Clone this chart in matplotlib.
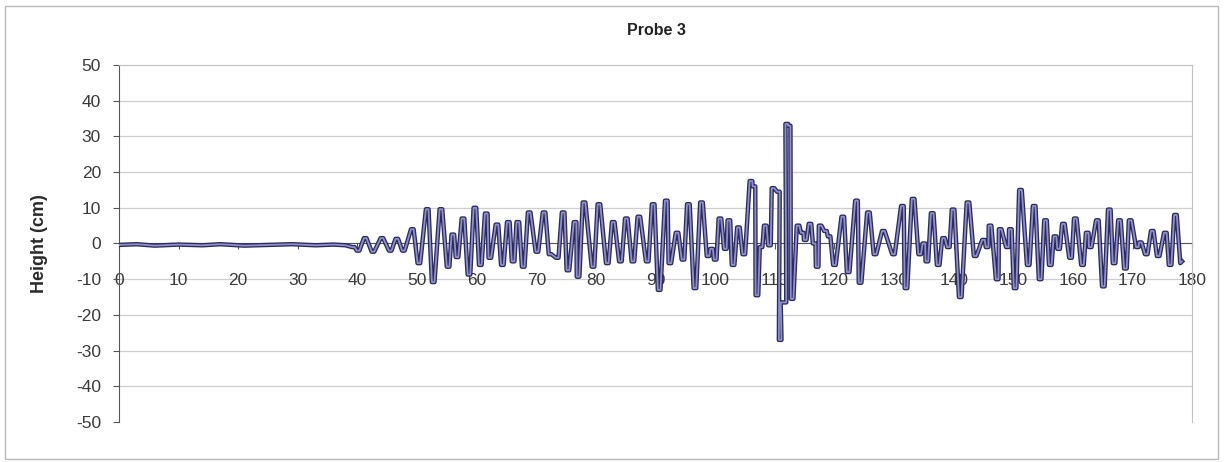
import matplotlib

matplotlib.use("Agg")
import matplotlib.pyplot as plt
from matplotlib.patches import Rectangle

plt.rcParams["font.family"] = ["Liberation Sans", "DejaVu Sans"]
plt.rcParams["axes.unicode_minus"] = False

# Probe 3 record: turning points (time, height in cm)
time_s = [
    0.0, 3.0, 6.0, 10.0, 14.0, 17.0, 21.0, 25.0, 29.0, 33.0, 36.0, 38.0,
    39.3, 40.1, 41.3, 42.6, 44.1, 45.5, 46.6, 47.7, 49.2, 50.3,
    51.7, 52.7, 54.0, 55.2, 56.0, 56.7, 57.7, 58.7, 59.7, 60.6,
    61.6, 62.2, 63.4, 64.3, 65.3, 66.1, 66.9, 67.8, 68.8, 70.1,
    71.3, 72.3, 73.5, 74.5, 75.3, 76.5, 77.0, 78.0, 79.5, 80.5,
    81.9, 82.9, 84.1, 85.1, 86.2, 87.2, 88.6, 89.6, 90.6, 91.8,
    92.4, 93.6, 94.6, 95.5, 96.6, 97.7, 98.8, 99.4, 100.0, 100.8,
    101.7, 102.3, 103.0, 103.9, 104.8, 106.0, 106.5, 107.0, 107.7, 108.4,
    109.1, 109.7, 110.6, 110.9, 111.2, 111.7, 112.0, 112.4, 112.9, 113.9,
    114.6, 115.1, 115.9, 116.6, 117.1, 117.6, 118.5, 119.1, 120.0, 121.4,
    122.3, 123.7, 124.3, 125.7, 126.8, 128.2, 129.9, 131.4, 132.0, 133.2,
    134.3, 135.0, 135.5, 136.4, 137.4, 138.3, 139.1, 139.9, 141.1, 142.4,
    143.6, 145.0, 145.6, 146.1, 147.3, 147.8, 149.0, 149.5, 150.3, 151.2,
    152.5, 153.5, 154.5, 155.4, 156.2, 157.0, 157.6, 158.4, 159.6, 160.4,
    161.6, 162.4, 162.9, 164.1, 165.1, 166.1, 166.9, 167.8, 168.8, 169.6,
    170.8, 171.3, 172.3, 173.3, 174.3, 175.5, 176.3, 177.2, 178.0, 178.3,
]
height_cm = [
    -0.4, -0.2, -0.6, -0.3, -0.5, -0.2, -0.6, -0.4, -0.2, -0.5, -0.3, -0.5,
    -1.0, -2.0, 1.5, -2.3, 1.5, -2.0, 1.3, -2.0, 4.0, -5.5,
    9.6, -10.8, 9.6, -6.5, 2.5, -3.8, 7.0, -8.7, 10.0, -6.0,
    8.4, -4.0, 5.3, -6.0, 6.0, -5.0, 6.0, -6.5, 8.7, -2.3,
    8.7, -3.0, -4.0, 8.7, -7.5, 6.0, -9.3, 11.5, -6.5, 11.0,
    -5.5, 6.0, -5.0, 7.0, -5.0, 7.5, -5.0, 11.0, -13.0, 12.0,
    -5.5, 3.0, -4.5, 11.0, -12.5, 11.5, -3.5, -1.5, -4.5, 7.0,
    -1.5, 6.5, -6.0, 4.5, -3.0, 17.5, 16.0, -14.5, -1.0, 5.0,
    -0.5, 15.5, 14.5, -27.0, -16.5, -16.5, 33.5, 33.0, -15.5, 5.0,
    3.0, 1.0, 5.5, 0.0, -6.5, 5.0, 3.5, 2.0, -6.0, 7.5,
    -8.0, 12.0, -11.0, 8.7, -3.0, 3.5, -3.0, 10.5, -12.5, 12.5,
    -3.0, 0.0, -5.0, 8.5, -6.0, 1.5, -1.0, 9.5, -15.0, 11.5,
    -3.5, 1.0, -1.0, 5.0, -10.0, 4.0, -1.0, 4.0, -12.5, 15.0,
    -6.0, 10.5, -10.0, 6.5, -6.0, 2.0, -1.5, 5.5, -4.0, 7.0,
    -6.0, 3.0, -1.0, 6.5, -12.0, 9.5, -5.5, 6.5, -7.0, 6.5,
    -1.0, 0.3, -3.0, 3.5, -3.5, 3.0, -6.0, 8.0, -5.5, -5.0,
]
x_ticks = list(range(0, 181, 10))
y_ticks = list(range(-50, 51, 10))

# the printed trace dwells briefly at each crest/trough, so hold every turning point
# for a short stretch instead of joining them with sharp sawtooth corners
hold = 0.22
plot_t, plot_h = [], []
for i, (t, h) in enumerate(zip(time_s, height_cm)):
    if 38.0 < t < 178.0:
        plot_t += [t - hold, t + hold]
        plot_h += [h, h]
    else:
        plot_t.append(t)
        plot_h.append(h)

fig = plt.figure(figsize=(12.24, 4.62), dpi=100)
fig.patches.append(Rectangle((0.004, 0.006), 0.991, 0.982, transform=fig.transFigure,
                             fill=False, edgecolor="#b8b8b8", linewidth=1.0))
ax = fig.add_axes([0.0972, 0.0866, 0.8768, 0.7727])

for y in y_ticks:
    if y in (-50, 50, 0):
        continue
    ax.axhline(y, color="#cfcfcf", linewidth=0.9, zorder=1)

# dark outline with a lighter core, like the printed line
ax.plot(plot_t, plot_h, color="#2b2b5c", linewidth=3.2, zorder=3)
ax.plot(plot_t, plot_h, color="#8f8fcc", linewidth=1.3, zorder=4)

ax.set_xlim(0, 180)
ax.set_ylim(-50, 50)
ax.set_xticks(x_ticks)
ax.set_yticks(y_ticks)

ax.spines["bottom"].set_position(("data", 0))
ax.spines["bottom"].set_color("#555555")
ax.spines["bottom"].set_zorder(2)
ax.spines["left"].set_color("#555555")
for side in ("top", "right"):
    ax.spines[side].set_color("#c0c0c0")

ax.tick_params(axis="x", direction="out", length=4, width=0.8, color="#555555",
               pad=17, labelsize=12.5, labelcolor="#3a3a3a")
ax.tick_params(axis="y", direction="out", length=4, width=0.8, color="#555555",
               pad=9, labelsize=12.5, labelcolor="#3a3a3a")

ax.set_ylabel("Height (cm)", fontsize=13, color="#2a2a2a", fontweight="bold")
ax.yaxis.set_label_coords(-0.066, 0.5)
fig.text(0.536, 0.933, "Probe 3", ha="center", va="center", fontsize=11.5,
         fontweight="bold", color="#222222")

fig.savefig("out.png", dpi=100)
